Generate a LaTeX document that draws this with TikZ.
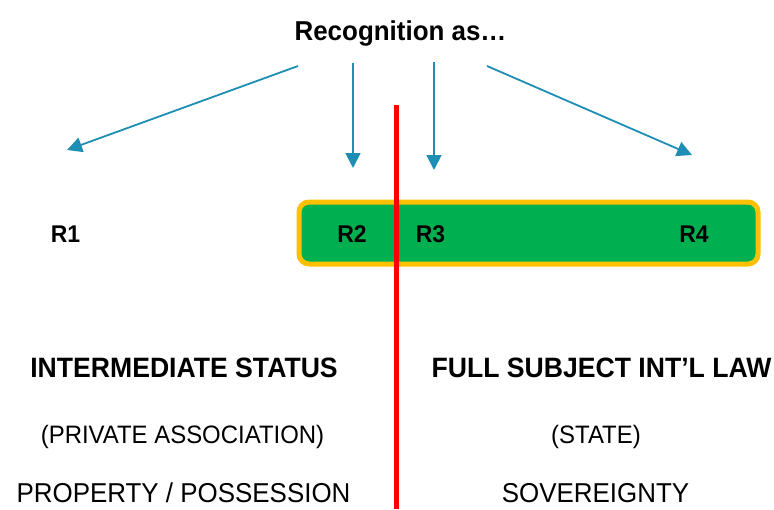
\documentclass[tikz,border=0pt]{standalone}
\usepackage{fontspec}
\setmainfont[FakeStretch=0.95]{Liberation Sans}
\usetikzlibrary{arrows.meta}
\definecolor{arrowblue}{RGB}{30,142,180}
\definecolor{bargreen}{RGB}{0,176,80}
\definecolor{barorange}{RGB}{255,192,0}
\tikzset{
  title/.style={anchor=base,font=\fontsize{27.3}{32}\selectfont\bfseries},
  rlabel/.style={anchor=base,font=\fontsize{24.2}{29}\selectfont\bfseries},
  headline/.style={anchor=base,font=\fontsize{28}{33}\selectfont\bfseries},
  subline/.style={anchor=base,font=\fontsize{25.2}{30}\selectfont},
  lastline/.style={anchor=base,inner ysep=0pt,text depth=0pt,
    font=\fontsize{27.3}{32}\selectfont},
  recarrow/.style={->,draw=arrowblue,line width=1.8pt},
}
\begin{document}
\begin{tikzpicture}[x=1pt,y=-1pt,>={Triangle[length=15pt,width=15pt]}]
  \useasboundingbox (0,0) rectangle (774,509);
  \node[title] (rec) at (400.5,40) {Recognition as…};
  % the four arrows
  \coordinate (s1) at (298,66);  \coordinate (e1) at (67,150);
  \coordinate (s2) at (353,63);  \coordinate (e2) at (353,168);
  \coordinate (s3) at (434,62);  \coordinate (e3) at (434,170);
  \coordinate (s4) at (487,66);  \coordinate (e4) at (692,155);
  \draw[recarrow] (s1) -- (e1);
  \draw[recarrow] (s2) -- (e2);
  \draw[recarrow] (s3) -- (e3);
  \draw[recarrow] (s4) -- (e4);
  % green bar
  \node[draw=barorange,fill=bargreen,line width=5pt,rounded corners=10pt,
        minimum width=459pt,minimum height=62pt] (bar) at (528.5,233) {};
  \node[rlabel] (r1) at (65.5,242) {R1};
  \node[rlabel] (r2) at (352,242) {R2};
  \node[rlabel] (r3) at (430.5,242) {R3};
  \node[rlabel] (r4) at (694,242) {R4};
  % divider
  \coordinate (ltop) at (396,105);
  \coordinate (lbot) at (396,509);
  \draw[red,line width=5pt] (ltop) -- (lbot);
  % two columns
  \node[headline] (inter) at (184,377) {INTERMEDIATE STATUS};
  \node[subline] (priv) at (182.5,443) {(PRIVATE ASSOCIATION)};
  \node[lastline] (prop) at (183.5,502) {PROPERTY / POSSESSION};
  \node[headline] (full) at (601.5,377) {FULL SUBJECT INT’L LAW};
  \node[subline] (state) at (596,443) {(STATE)};
  \node[lastline] (sov) at (595.5,502) {SOVEREIGNTY};
\end{tikzpicture}
\end{document}
